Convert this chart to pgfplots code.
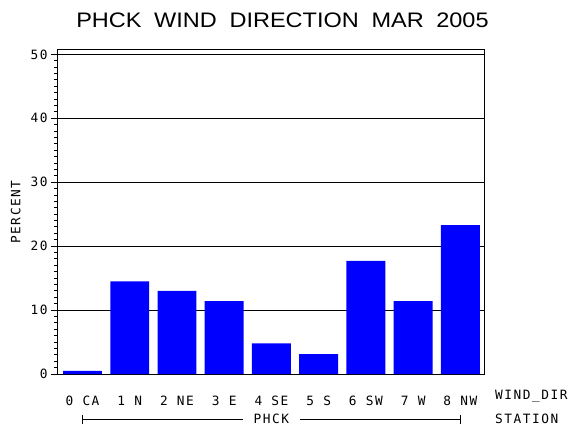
\documentclass[border=0pt]{standalone}
\usepackage{fontspec}
\usepackage{pgfplots}
\pgfplotsset{compat=1.18}
\setmainfont{DejaVu Sans Mono}[LetterSpace=12]
\newfontfamily\titlefont{Liberation Sans}[FakeStretch=1.12]
\newcommand\ticfont{\fontsize{12.8bp}{15bp}\selectfont}
\newcommand\tsp{\hspace{12.6bp}}

\pgfplotstableread{
idx pct
0 0.5
1 14.5
2 13.0
3 11.4
4 4.8
5 3.1
6 17.7
7 11.4
8 23.3
}\winddata

\begin{document}
\begin{tikzpicture}
\path[use as bounding box] (-57bp,-56bp) rectangle (513bp,374bp);
\begin{axis}[
    at={(0,0)}, anchor=south west,
    scale only axis,
    width=427.5bp, height=324.7bp,
    xmin=-0.54, xmax=8.51,
    ymin=0, ymax=50.8,
    ybar, bar width=0.825, bar shift=0pt,
    xtick={0,...,8},
    xticklabels={0 CA, 1 N, 2 NE, 3 E, 4 SE, 5 S, 6 SW, 7 W, 8 NW},
    ytick={0,10,...,50},
    minor y tick num=9,
    ytick pos=left,
    tick align=outside,
    major tick length=6bp, minor tick length=3bp,
    tick style={black, line width=1bp},
    xtick style={draw=none},
    axis line style={line width=1bp},
    ymajorgrids, grid style={black, line width=1bp},
    /pgf/number format/assume math mode=true,
    tick label style={font=\ticfont},
    xticklabel style={anchor=base, yshift=-25.3bp},
    clip=false,
]
\addplot[fill=blue, draw=none] table[x=idx, y=pct] {\winddata};

% station bracket under the direction labels
\draw[line width=1bp] ([yshift=-45bp]axis cs:0,0) -- ([yshift=-45bp]axis cs:3.4,0);
\draw[line width=1bp] ([yshift=-45bp]axis cs:4.6,0) -- ([yshift=-45bp]axis cs:8,0);
\draw[line width=1bp] ([yshift=-40.5bp]axis cs:0,0) -- ([yshift=-49.5bp]axis cs:0,0);
\draw[line width=1bp] ([yshift=-40.5bp]axis cs:8,0) -- ([yshift=-49.5bp]axis cs:8,0);
\node[font=\ticfont, inner sep=0] at ([yshift=-45bp]axis cs:4,0) {PHCK};

\node[font=\ticfont, anchor=base west, inner sep=0] at ([xshift=10.5bp, yshift=-25.3bp]rel axis cs:1,0) {WIND\_DIR};
\node[font=\ticfont, anchor=base west, inner sep=0] at ([xshift=10.5bp, yshift=-49.6bp]rel axis cs:1,0) {STATION};
\node[font=\ticfont, rotate=90, inner sep=0] at ([xshift=-41.3bp, yshift=162bp]rel axis cs:0,0) {PERCENT};
\node[font=\titlefont\fontsize{21bp}{24bp}\selectfont, anchor=base, inner sep=0] at ([xshift=225.5bp, yshift=346.7bp]rel axis cs:0,0) {PHCK\tsp WIND\tsp DIRECTION\tsp MAR\tsp 2005};
\end{axis}
\end{tikzpicture}
\end{document}
